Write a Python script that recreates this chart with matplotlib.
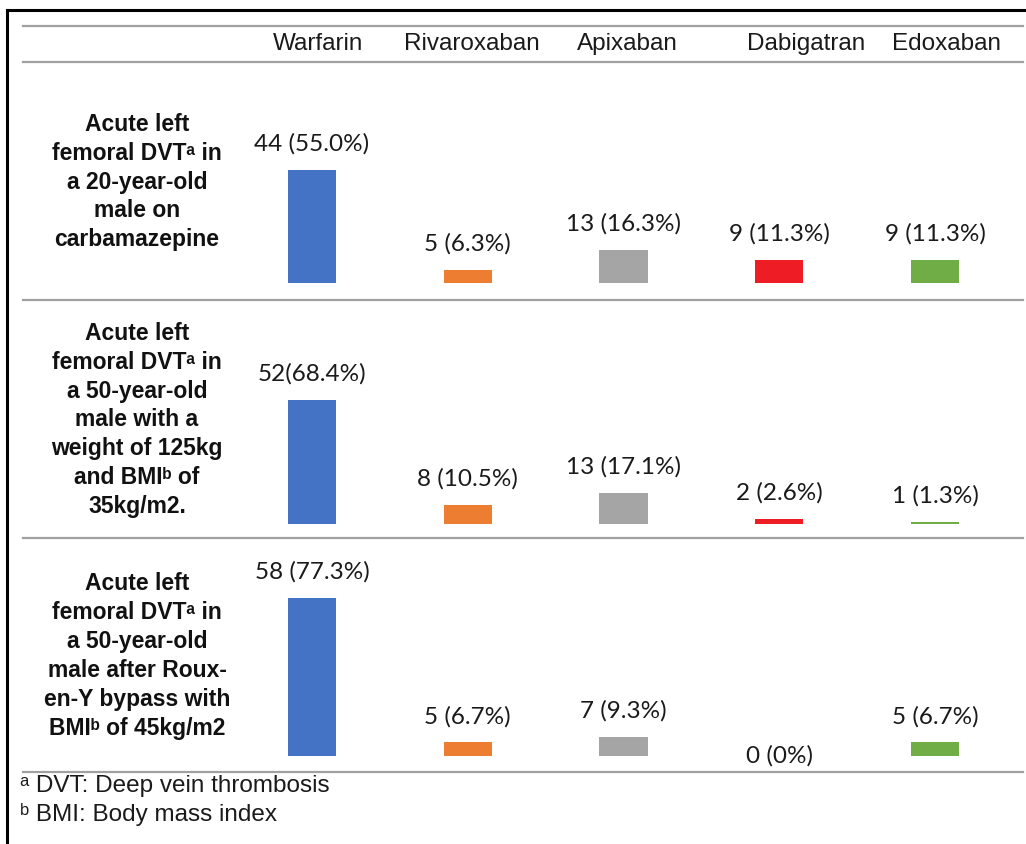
import matplotlib.pyplot as plt
from matplotlib.lines import Line2D

drugs = ['Warfarin', 'Rivaroxaban', 'Apixaban', 'Dabigatran', 'Edoxaban']
colors = ['#4472C4', '#ED7D31', '#A5A5A5', '#EE1C25', '#70AD47']

scenarios = [
    'Acute left\nfemoral DVT\u1d43 in\na 20-year-old\nmale on\ncarbamazepine',
    'Acute left\nfemoral DVT\u1d43 in\na 50-year-old\nmale with a\nweight of 125kg\nand BMI\u1d47 of\n35kg/m2.',
    'Acute left\nfemoral DVT\u1d43 in\na 50-year-old\nmale after Roux-\nen-Y bypass with\nBMI\u1d47 of 45kg/m2',
]

counts_1 = [44, 5, 13, 9, 9]
counts_2 = [52, 8, 13, 2, 1]
counts_3 = [58, 5, 7, 0, 5]
labels_1 = ['44 (55.0%)', '5 (6.3%)', '13 (16.3%)', '9 (11.3%)', '9 (11.3%)']
labels_2 = ['52(68.4%)', '8 (10.5%)', '13 (17.1%)', '2 (2.6%)', '1 (1.3%)']
labels_3 = ['58 (77.3%)', '5 (6.7%)', '7 (9.3%)', '0 (0%)', '5 (6.7%)']

footnotes = ['\u1d43 DVT: Deep vein thrombosis', '\u1d47 BMI: Body mass index']

W, H = 1026, 844
fig = plt.figure(figsize=(W / 100, H / 100), dpi=100)


def fx(px):
    return px / W


def fy(py):
    return 1 - py / H


# frame and grey rules
fig.add_artist(Line2D([fx(7), fx(7)], [fy(10), 0], color='black', lw=2.2))
fig.add_artist(Line2D([fx(7), 1], [fy(10), fy(10)], color='black', lw=2.2))
for y in [26, 62, 300, 538, 772]:
    fig.add_artist(Line2D([fx(23), fx(1023)], [fy(y), fy(y)], color='#A0A0A0', lw=1.6))

# column headers
header_x = [318, 472, 627, 806, 946]
for name, x in zip(drugs, header_x):
    fig.text(fx(x), fy(44), name, ha='center', va='center', fontsize=17.5,
             family='Liberation Sans', color='#1a1a1a')

# rows: (top px, bottom px, baseline px, px per unit)
rows = [(62, 300, 283, 2.57), (300, 538, 524, 2.38), (538, 772, 756, 2.72)]
row_counts = [counts_1, counts_2, counts_3]
row_labels = [labels_1, labels_2, labels_3]
label_centers = [182, 420, 656]

for (top, bot, base, scale), counts, labels, text, cy in zip(
        rows, row_counts, row_labels, scenarios, label_centers):
    ax = fig.add_axes([fx(234), fy(bot), fx(1013) - fx(234), (bot - top) / H])
    ax.set_xlim(-0.5, 4.5)
    ax.set_ylim(-(bot - base) / scale, (base - top) / scale)
    ax.axis('off')
    bars = ax.bar(range(len(drugs)), counts, width=0.31, color=colors)
    for i, (b, lab) in enumerate(zip(bars, labels)):
        xc = b.get_x() + b.get_width() / 2
        if counts[i] == 0:
            ax.annotate(lab, (xc, 0), xytext=(0, 0), textcoords='offset points',
                        ha='center', va='center', fontsize=17.5, family='Lato',
                        color='#1a1a1a')
        else:
            ax.annotate(lab, (xc, counts[i]), xytext=(0, 11),
                        textcoords='offset points', ha='center', va='bottom',
                        fontsize=17.5, family='Lato', color='#1a1a1a')
    fig.text(fx(137), fy(cy), text, ha='center', va='center', fontsize=16.5,
             fontweight='bold', family=['Liberation Sans', 'DejaVu Sans'],
             linespacing=1.33, color='#111111')

fig.text(fx(20), fy(786), footnotes[0], ha='left', va='center', fontsize=17.5,
         family=['Liberation Sans', 'DejaVu Sans'], color='#1a1a1a')
fig.text(fx(20), fy(814), footnotes[1], ha='left', va='center', fontsize=17.5,
         family=['Liberation Sans', 'DejaVu Sans'], color='#1a1a1a')

fig.savefig('out.png', dpi=100)
